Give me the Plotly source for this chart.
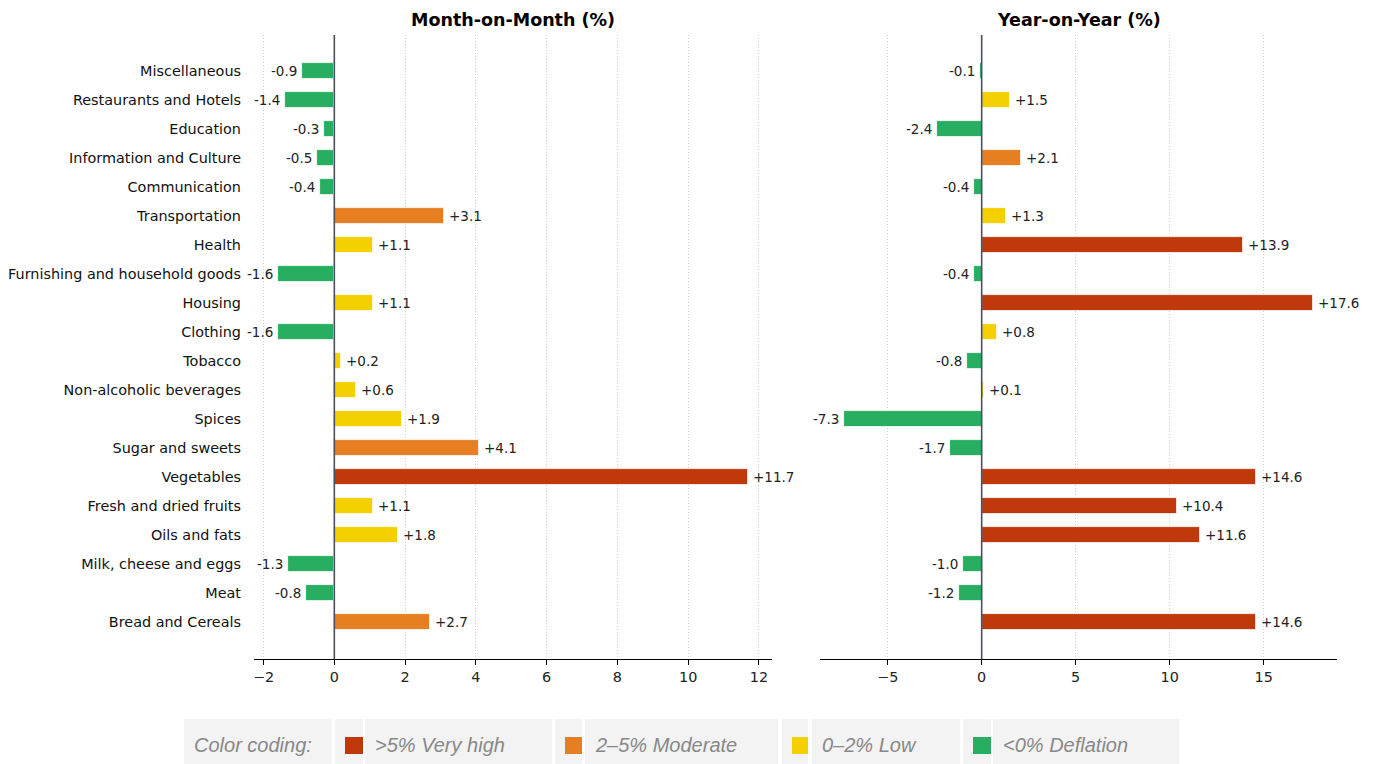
import plotly.graph_objects as go

# ---------------- data ----------------
categories = [
    "Bread and Cereals", "Meat", "Milk, cheese and eggs", "Oils and fats",
    "Fresh and dried fruits", "Vegetables", "Sugar and sweets", "Spices",
    "Non-alcoholic beverages", "Tobacco", "Clothing", "Housing",
    "Furnishing and household goods", "Health", "Transportation",
    "Communication", "Information and Culture", "Education",
    "Restaurants and Hotels", "Miscellaneous",
]
mom_values = [2.7, -0.8, -1.3, 1.8, 1.1, 11.7, 4.1, 1.9, 0.6, 0.2,
              -1.6, 1.1, -1.6, 1.1, 3.1, -0.4, -0.5, -0.3, -1.4, -0.9]
yoy_values = [14.6, -1.2, -1.0, 11.6, 10.4, 14.6, -1.7, -7.3, 0.1, -0.8,
              0.8, 17.6, -0.4, 13.9, 1.3, -0.4, 2.1, -2.4, 1.5, -0.1]
panel_titles = ["Month-on-Month (%)", "Year-on-Year (%)"]
mom_ticks = [-2, 0, 2, 4, 6, 8, 10, 12]
yoy_ticks = [-5, 0, 5, 10, 15]

legend_title = "Color coding:"
legend_labels = [">5% Very high", "2\u20135% Moderate", "0\u20132% Low", "<0% Deflation"]
legend_colors = ["#C0390B", "#E67E22", "#F4D000", "#27AE60"]


def color_for(v):
    if v > 5:
        return legend_colors[0]
    if v >= 2:
        return legend_colors[1]
    if v >= 0:
        return legend_colors[2]
    return legend_colors[3]


W, H = 1376, 764
FONT = "DejaVu Sans"

fig = go.Figure()

panels = [
    (mom_values, "x", "y", [-2.27, 12.37], mom_ticks, (254, 772)),
    (yoy_values, "x2", "y2", [-8.6, 18.9], yoy_ticks, (820, 1337)),
]

annotations = []
shapes = []

for i, (vals, xa, ya, xr, ticks, (px0, px1)) in enumerate(panels):
    fig.add_trace(go.Bar(
        x=vals, y=categories, orientation="h",
        xaxis=xa, yaxis=ya,
        marker=dict(color=[color_for(v) for v in vals],
                    line=dict(color="white", width=0.8)),
        width=0.55, hoverinfo="skip", showlegend=False,
    ))
    for c, v in zip(categories, vals):
        annotations.append(dict(
            x=v, y=c, xref=xa, yref=ya,
            text=f"{v:+.1f}", showarrow=False,
            xanchor="left" if v >= 0 else "right",
            xshift=3 if v >= 0 else -3,
            font=dict(family=FONT, size=13.5, color="#222222"),
        ))
    # title
    annotations.append(dict(
        x=(px0 + px1) / 2 / W, y=1 - 20 / H, xref="paper", yref="paper",
        text=f"<b>{panel_titles[i]}</b>", showarrow=False,
        xanchor="center", yanchor="middle",
        font=dict(family=FONT, size=17.5, color="#000000"),
    ))
    # zero reference line
    shapes.append(dict(
        type="line", xref=xa, yref=f"{ya} domain", x0=0, x1=0, y0=0, y1=1,
        line=dict(color="#4A5060", width=1.6), layer="above",
    ))

ydom = [1 - 659 / H, 1 - 35 / H]
yrange = [-1.27, 20.25]

common_x = dict(
    showgrid=True, gridcolor="#D0D0D0", griddash="1px,2px", gridwidth=1,
    zeroline=False, showline=True, linecolor="#000000", linewidth=1,
    ticks="outside", ticklen=5, tickcolor="#000000",
    tickfont=dict(family=FONT, size=14.4, color="#222222"),
)

fig.update_layout(
    width=W, height=H, margin=dict(l=0, r=0, t=0, b=0),
    paper_bgcolor="white", plot_bgcolor="white",
    bargap=0,
    xaxis=dict(domain=[254 / W, 772 / W], range=panels[0][3],
               tickvals=mom_ticks, anchor="y", **common_x),
    xaxis2=dict(domain=[820 / W, 1337 / W], range=panels[1][3],
                tickvals=yoy_ticks, anchor="y2", **common_x),
    yaxis=dict(domain=ydom, type="category", categoryarray=categories,
               range=yrange, showgrid=False, zeroline=False, showline=False,
               ticks="", ticklabelstandoff=12, anchor="x",
               tickfont=dict(family=FONT, size=14.4, color="#111111")),
    yaxis2=dict(domain=ydom, type="category", categoryarray=categories,
                range=yrange, showgrid=False, zeroline=False, showline=False,
                ticks="", showticklabels=False, anchor="x2"),
)

# ---------------- colour-coding strip ----------------
cell_y0, cell_y1 = 0, 1 - 719 / H
sw_y0, sw_y1 = 1 - 754 / H, 1 - 737 / H
legend_cells = [(184, 332)]
swatch_cells = [(335, 363), (555, 582), (782, 808), (963, 991)]
text_cells = [(365, 552), (585, 778), (812, 960), (993, 1179)]

def box(x0, x1, y0, y1, color):
    return dict(type="rect", xref="paper", yref="paper",
                x0=x0 / W, x1=x1 / W, y0=y0, y1=y1,
                fillcolor=color, line=dict(width=0), layer="below")

shapes.append(box(*legend_cells[0], cell_y0, cell_y1, "#F3F3F3"))
annotations.append(dict(
    x=(legend_cells[0][0] + 8) / W, y=1 - 745 / H, xref="paper", yref="paper",
    text=f"<i>{legend_title}</i>", showarrow=False, xanchor="left", yanchor="middle",
    font=dict(family="Liberation Sans", size=20, color="#888888"),
))
for (sx0, sx1), (tx0, tx1), lab, col in zip(swatch_cells, text_cells, legend_labels, legend_colors):
    shapes.append(box(sx0, sx1, cell_y0, cell_y1, "#F3F3F3"))
    shapes.append(box(tx0, tx1, cell_y0, cell_y1, "#F3F3F3"))
    s = dict(type="rect", xref="paper", yref="paper",
             x0=(sx0 + 10) / W, x1=sx1 / W, y0=sw_y0, y1=sw_y1,
             fillcolor=col, line=dict(width=0), layer="above")
    shapes.append(s)
    annotations.append(dict(
        x=(tx0 + 8) / W, y=1 - 745 / H, xref="paper", yref="paper",
        text=f"<i>{lab}</i>", showarrow=False, xanchor="left", yanchor="middle",
        font=dict(family="Liberation Sans", size=20, color="#888888"),
    ))

fig.update_layout(annotations=annotations, shapes=shapes)

fig.write_html(
    "out.html",
    config={"displayModeBar": False},
    post_script="document.body.style.margin='0';document.body.style.overflow='hidden';",
)
